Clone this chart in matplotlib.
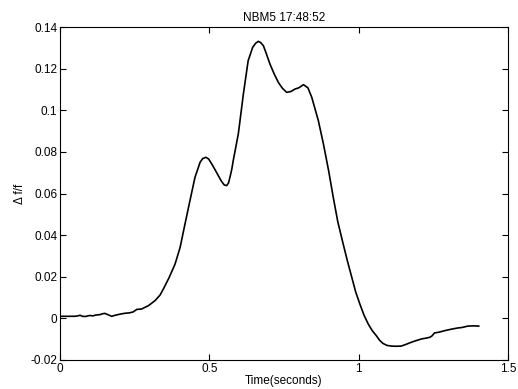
import matplotlib
matplotlib.use("Agg")
import matplotlib.pyplot as plt

plt.rcParams['font.family'] = ['Liberation Sans', 'DejaVu Sans']

time_s = [0.0, 0.03, 0.05, 0.06, 0.067, 0.075, 0.085, 0.1, 0.11, 0.12, 0.134, 0.142, 0.15, 0.16,
          0.173, 0.185, 0.2, 0.215, 0.234, 0.245, 0.257, 0.273,
          0.296, 0.318, 0.335, 0.346, 0.365, 0.385, 0.402, 0.418, 0.435, 0.452, 0.462, 0.469, 0.478,
          0.489, 0.498, 0.508, 0.52, 0.53, 0.54, 0.55, 0.558, 0.564, 0.569, 0.575, 0.58, 0.597,
          0.614, 0.63, 0.645, 0.655, 0.664, 0.672,
          0.681, 0.69, 0.703, 0.717, 0.731, 0.745, 0.759, 0.773, 0.787, 0.8, 0.815, 0.83, 0.843,
          0.865, 0.882, 0.9, 0.915, 0.93, 0.948, 0.963, 0.977, 0.99, 1.004, 1.018, 1.032, 1.045,
          1.059, 1.07, 1.081, 1.095, 1.109, 1.125, 1.143, 1.16, 1.176, 1.19, 1.21, 1.225,
          1.238, 1.245, 1.254, 1.27, 1.288, 1.31, 1.332, 1.345, 1.366, 1.385, 1.402]
dff = [0.001, 0.001, 0.001, 0.0012, 0.0015, 0.001, 0.0009, 0.0014, 0.0012, 0.0016, 0.0018, 0.0022,
       0.0024, 0.0018, 0.001, 0.0015, 0.002, 0.0024, 0.0027, 0.0031, 0.0043, 0.0045,
       0.0061, 0.0085, 0.0112, 0.0141, 0.0195, 0.026, 0.034, 0.045, 0.0565, 0.0678, 0.072, 0.075, 0.0768,
       0.0774, 0.0765, 0.0742, 0.0712, 0.0686, 0.066, 0.0641, 0.0638, 0.065, 0.0678, 0.0715, 0.0758, 0.0886,
       0.1078, 0.1238, 0.1302, 0.1322, 0.1331, 0.1325,
       0.131, 0.1275, 0.1222, 0.1175, 0.1134, 0.1105, 0.1086, 0.109, 0.1102, 0.1108, 0.1123, 0.1108, 0.1062,
       0.095, 0.0838, 0.0705, 0.0581, 0.0465, 0.0358, 0.0272, 0.0197, 0.0127, 0.0069, 0.0015, -0.0027, -0.0058,
       -0.0083, -0.0105, -0.012, -0.013, -0.0133, -0.0134, -0.0133, -0.0124, -0.0115, -0.0108, -0.0099, -0.0095,
       -0.0091, -0.0085, -0.007, -0.0066, -0.0059, -0.0052, -0.0046, -0.0044, -0.0037, -0.0036, -0.0037]

title = "NBM5 17:48:52"
xlabel = "Time(seconds)"
ylabel = "Δ f/f"
xticks = [0, 0.5, 1, 1.5]
xticklabels = ["0", "0.5", "1", "1.5"]
yticks = [-0.02, 0, 0.02, 0.04, 0.06, 0.08, 0.1, 0.12, 0.14]
yticklabels = ["-0.02", "0", "0.02", "0.04", "0.06", "0.08", "0.1", "0.12", "0.14"]

fig = plt.figure(figsize=(5.18, 3.89), dpi=100)
ax = fig.add_axes([60/518, 29/389, 448/518, 333/389])
ax.plot(time_s, dff, color='black', linewidth=1.2)
ax.set_xlim(0, 1.5)
ax.set_ylim(-0.02, 0.14)
ax.set_xticks(xticks)
ax.set_xticklabels(xticklabels)
ax.set_yticks(yticks)
ax.set_yticklabels(yticklabels)
ax.tick_params(direction='in', top=True, right=True, length=4, width=0.8, labelsize=8.5, pad=2)
for s in ax.spines.values():
    s.set_linewidth(0.8)
ax.set_title(title, fontsize=8.5, pad=4)
ax.set_xlabel(xlabel, fontsize=8.5, labelpad=0)
ax.set_ylabel(ylabel, fontsize=8.5, labelpad=3)
fig.savefig("out.png", dpi=100)
